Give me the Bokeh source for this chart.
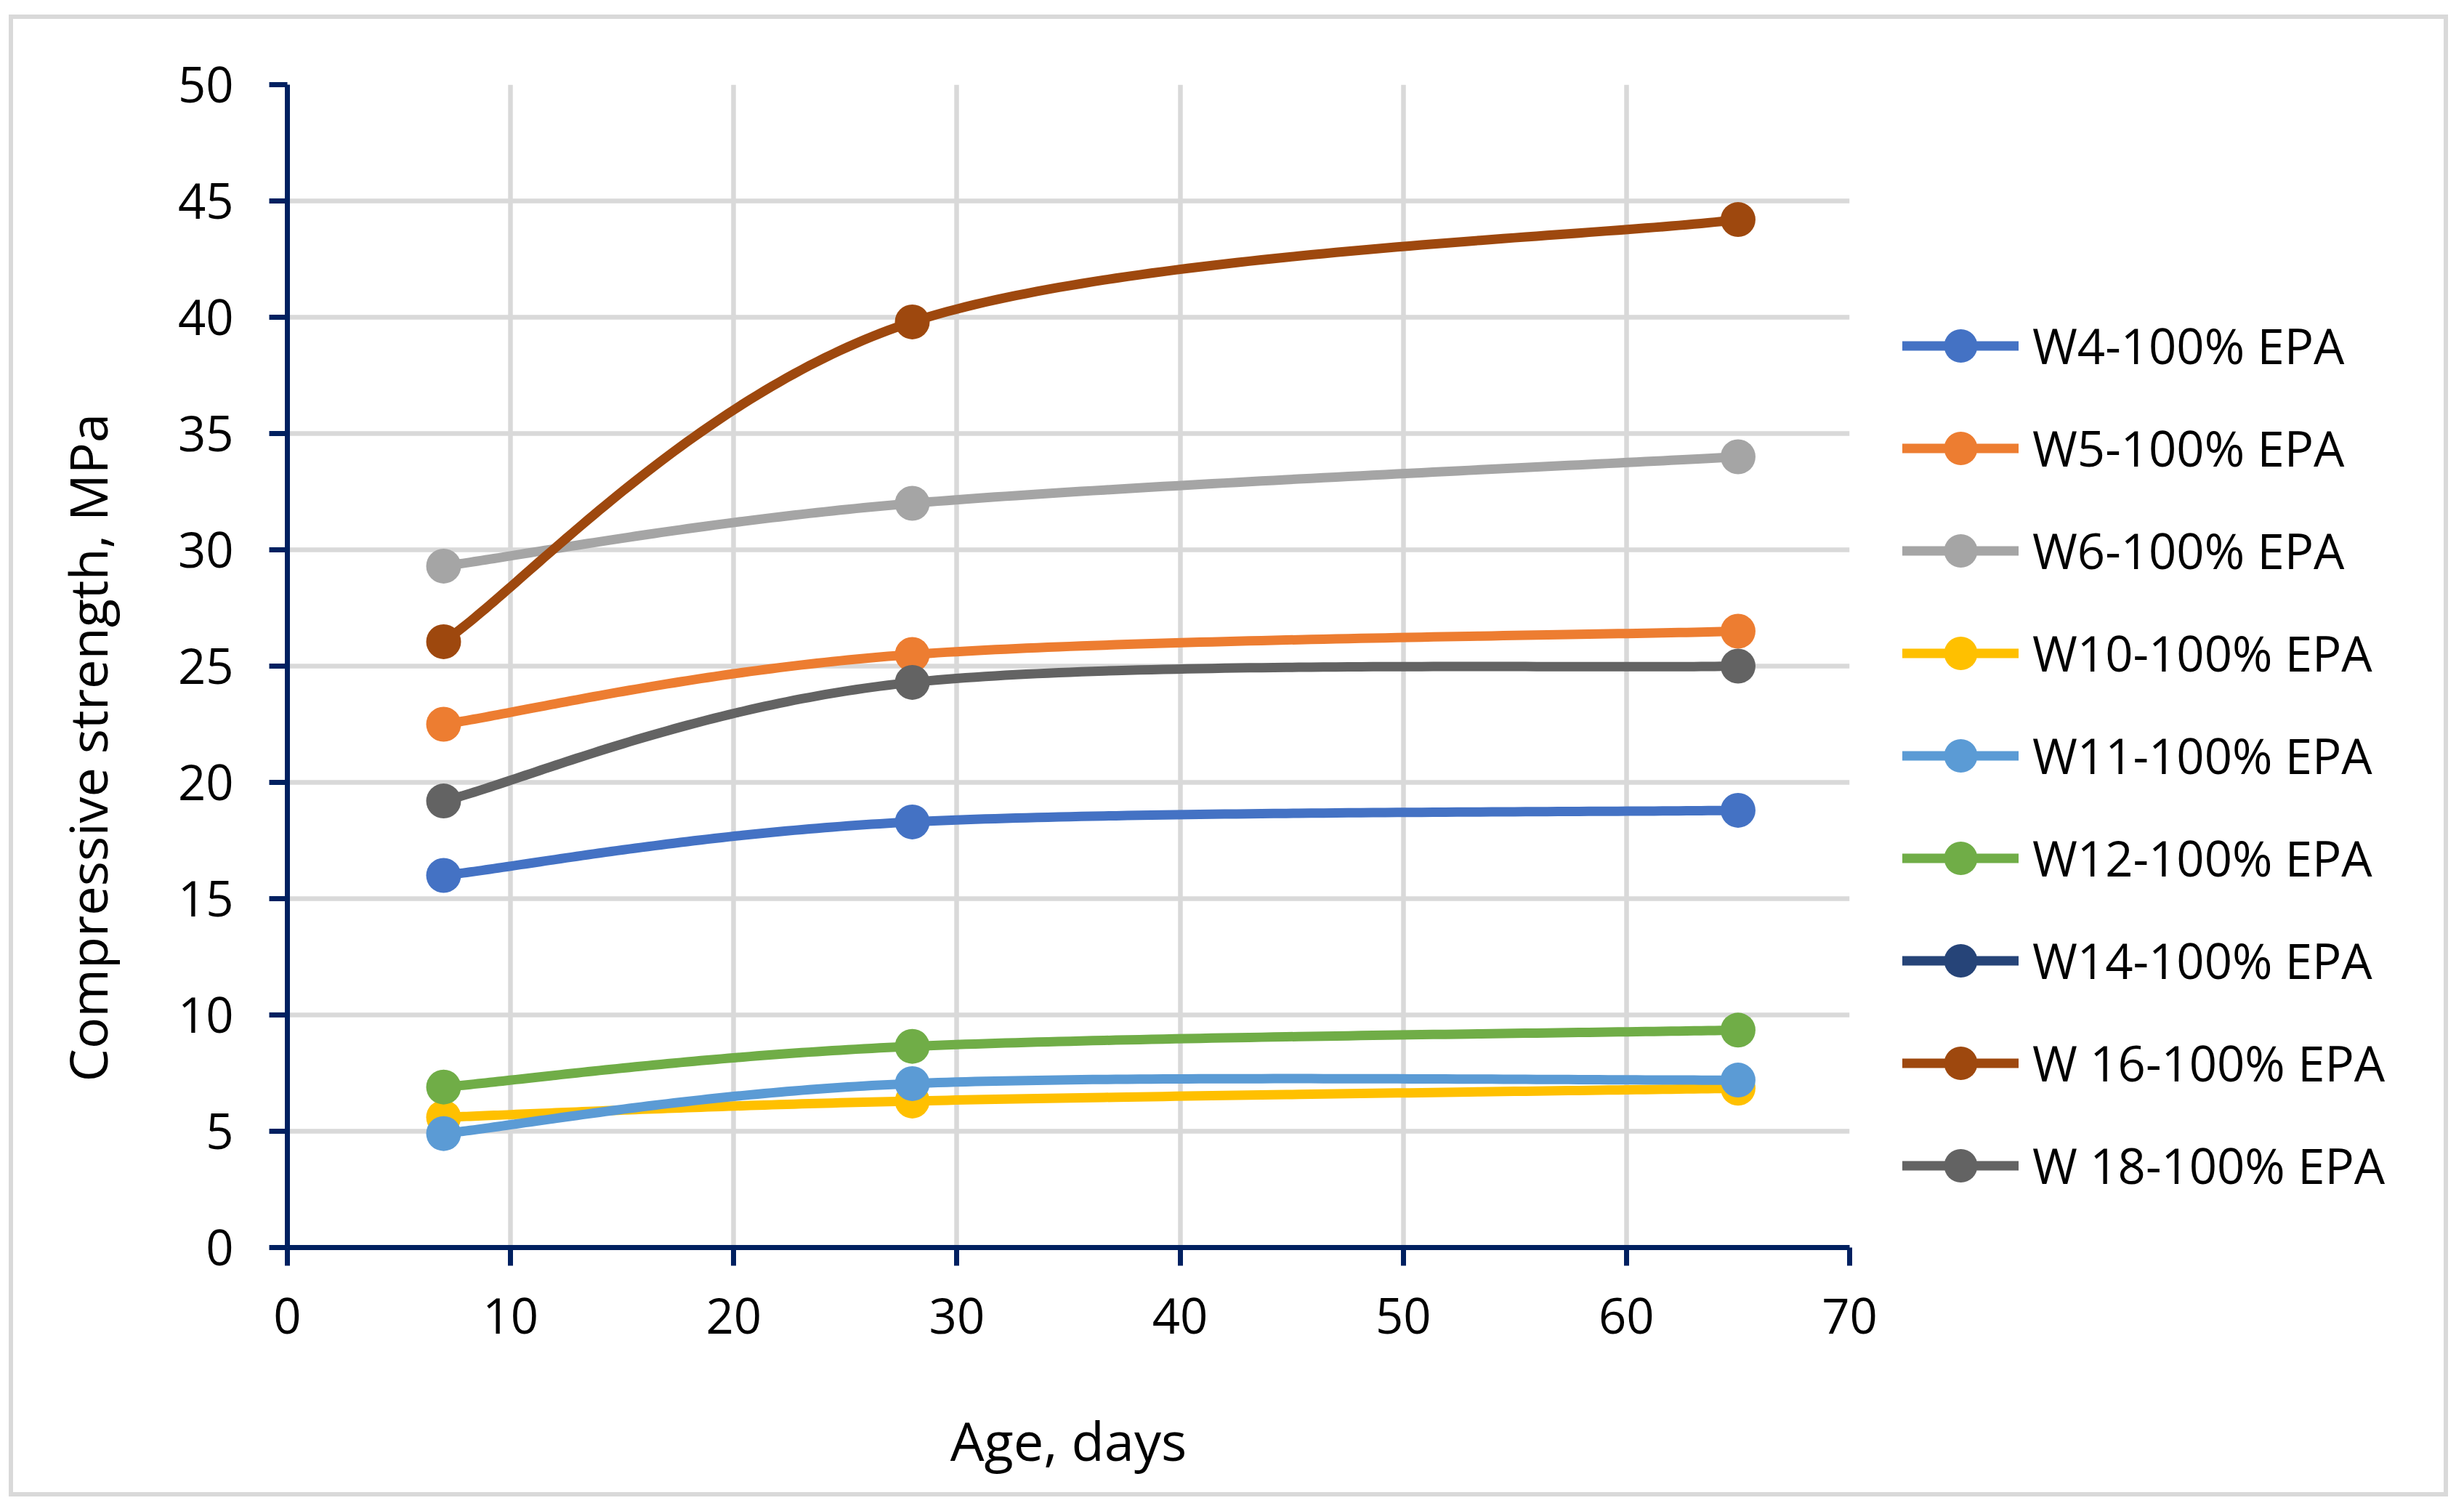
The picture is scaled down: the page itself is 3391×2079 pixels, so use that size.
import numpy as np
from bokeh.plotting import figure
from bokeh.layouts import row
from bokeh.models import Legend, LegendItem, SingleIntervalTicker, Range1d, InlineStyleSheet
from bokeh.embed import file_html
from bokeh.resources import INLINE

# ---------------- data ----------------
age_days = [7, 28, 65]
series_names = ["W4-100% EPA", "W5-100% EPA", "W6-100% EPA", "W10-100% EPA",
                "W11-100% EPA", "W12-100% EPA", "W14-100% EPA",
                "W 16-100% EPA", "W 18-100% EPA"]
w4 = [16.0, 18.3, 18.8]
w5 = [22.5, 25.5, 26.5]
w6 = [29.3, 32.0, 34.0]
w10 = [5.6, 6.3, 6.85]
w11 = [4.9, 7.05, 7.2]
w12 = [6.9, 8.65, 9.35]
w14 = [float("nan"), float("nan"), float("nan")]   # not visible in the reference
w16 = [26.05, 39.8, 44.2]
w18 = [19.2, 24.3, 25.0]
series_values = [w4, w5, w6, w10, w11, w12, w14, w16, w18]
colors = ["#4472C4", "#ED7D31", "#A5A5A5", "#FFC000", "#5B9BD5",
          "#70AD47", "#264478", "#9E480E", "#636363"]
x_title = "Age, days"
y_title = "Compressive strength, MPa"
x_ticks_step = 10
y_ticks_step = 5

FONT = "Open Sans"
H = 2068


def smooth(xs, ys, n=80):
    """Excel-style smoothed line (cubic Bezier with Catmull-Rom control points)."""
    if len(xs) < 2:
        return list(xs), list(ys)
    P = np.column_stack([xs, ys]).astype(float)
    out = [P[0]]
    t = np.linspace(0, 1, n)[1:, None]
    for i in range(len(P) - 1):
        p0 = P[i - 1] if i > 0 else P[i]
        p1 = P[i]
        p2 = P[i + 1]
        p3 = P[i + 2] if i + 2 < len(P) else P[i + 1]
        c1 = p1 + (p2 - p0) / 6.0
        c2 = p2 - (p3 - p1) / 6.0
        seg = ((1 - t) ** 3) * p1 + 3 * ((1 - t) ** 2) * t * c1 + 3 * (1 - t) * (t ** 2) * c2 + (t ** 3) * p2
        out.extend(list(seg))
    out = np.array(out)
    return out[:, 0].tolist(), out[:, 1].tolist()


# ---------------- main chart ----------------
p = figure(width=2605, height=H, output_backend="svg", toolbar_location=None,
           x_range=Range1d(0, 70), y_range=Range1d(0, 50),
           min_border_left=395, min_border_right=60,
           min_border_top=116, min_border_bottom=H - 1716)
p.background_fill_color = "white"
p.border_fill_color = "white"
p.outline_line_color = None

for g in (p.xgrid, p.ygrid):
    g.grid_line_color = "#D9D9D9"
    g.grid_line_width = 6.5
p.xaxis.ticker = SingleIntervalTicker(interval=x_ticks_step)
p.yaxis.ticker = SingleIntervalTicker(interval=y_ticks_step)
p.xgrid.ticker = p.xaxis.ticker
p.ygrid.ticker = p.yaxis.ticker

for ax in (p.xaxis, p.yaxis):
    ax.axis_line_color = "#002060"
    ax.axis_line_width = 7
    ax.major_tick_line_color = "#002060"
    ax.major_tick_line_width = 7
    ax.major_tick_out = 25
    ax.major_tick_in = 0
    ax.minor_tick_line_color = None
    ax.major_label_text_font = FONT
    ax.major_label_text_font_size = "67px"
    ax.major_label_text_color = "black"
    ax.axis_label_text_font = FONT
    ax.axis_label_text_font_style = "normal"
    ax.axis_label_text_color = "black"
p.yaxis.major_label_standoff = 49
p.xaxis.major_label_standoff = 44

p.xaxis.axis_label = x_title
p.xaxis.axis_label_text_font_size = "74px"
p.xaxis.axis_label_standoff = 93
# trailing no-break spaces shift the centred title slightly down, as in the reference
p.yaxis.axis_label = y_title + "\u00a0" * 12
p.yaxis.axis_label_text_font_size = "72px"
p.yaxis.axis_label_standoff = 73

for vals, col in zip(series_values, colors):
    xs = age_days[:len(vals)]
    sx, sy = smooth(xs, vals)
    p.line(x=sx, y=sy, line_color=col, line_width=13, line_cap="round", line_join="round")
    p.scatter(x=xs, y=vals, size=48, fill_color=col, line_color=None, marker="circle")

# ---------------- legend panel (same series, legend only) ----------------
pl = figure(width=767, height=H, output_backend="svg", toolbar_location=None,
            x_range=Range1d(-1000, -999), y_range=Range1d(-1000, -999),
            x_axis_type=None, y_axis_type=None,
            min_border_left=0, min_border_right=0, min_border_top=0, min_border_bottom=0)
pl.background_fill_color = "white"
pl.border_fill_color = "white"
pl.outline_line_color = None
pl.grid.visible = False

items = []
for name, vals, col in zip(series_names, series_values, colors):
    xs = age_days[:len(vals)]
    r_line = pl.line(x=xs, y=vals, line_color=col, line_width=13,
                     line_cap="round", line_join="round")
    r_pts = pl.scatter(x=xs, y=vals, size=48, fill_color=col, line_color=None, marker="circle")
    items.append(LegendItem(label=name, renderers=[r_line, r_pts]))

# the row aligns this panel's frame with the chart's frame
legend = Legend(items=items, location=(13, 55.5), orientation="vertical",
                glyph_width=160, glyph_height=115, label_height=115, spacing=26,
                padding=0, margin=0, label_standoff=19,
                label_text_font=FONT, label_text_font_size="67px",
                label_text_color="black",
                border_line_color=None, background_fill_alpha=0)
pl.add_layout(legend, "center")

layout = row(p, pl, spacing=0)
layout.stylesheets = [InlineStyleSheet(css="""
:host { position: relative; }
:host::after { content: ""; position: absolute; left: 12px; right: 3px; top: 20px; bottom: 9px;
  border: 6px solid #D9D9D9; pointer-events: none; z-index: 10; box-sizing: border-box; }
""")]

open("out.html", "w").write(file_html(layout, INLINE))
